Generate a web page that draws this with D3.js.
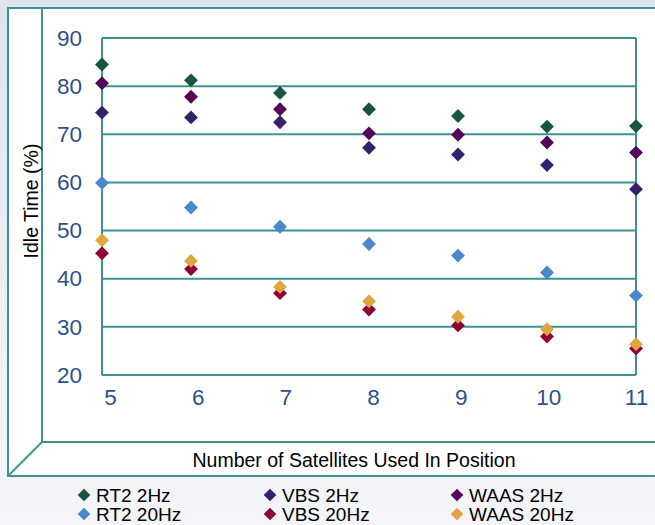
<!DOCTYPE html>
<html>
<head>
<meta charset="utf-8">
<script src="https://cdn.jsdelivr.net/npm/d3@7"></script>
<style>
  html, body { margin: 0; padding: 0; }
  body { width: 655px; height: 525px; overflow: hidden; }
  text { font-family: "Liberation Sans", Arial, sans-serif; }
</style>
</head>
<body>
<script>
// satellites used in position
var satellites = [5, 6, 7, 8, 9, 10, 11];
var yTicks = [20, 30, 40, 50, 60, 70, 80, 90];

var seriesNames = ['RT2 2Hz', 'VBS 2Hz', 'WAAS 2Hz', 'RT2 20Hz', 'VBS 20Hz', 'WAAS 20Hz'];
var rt2_2 = [84.5, 81.2, 78.6, 75.2, 73.8, 71.6, 71.7];
var vbs_2 = [74.5, 73.5, 72.5, 67.2, 65.8, 63.6, 58.6];
var waas_2 = [80.6, 77.8, 75.2, 70.2, 69.9, 68.3, 66.2];
var rt2_20 = [59.9, 54.8, 50.8, 47.2, 44.8, 41.3, 36.5];
var vbs_20 = [45.3, 42.0, 37.0, 33.6, 30.3, 28.0, 25.5];
var waas_20 = [48.0, 43.7, 38.3, 35.3, 32.1, 29.5, 26.4];

var seriesValues = [rt2_2, vbs_2, waas_2, rt2_20, vbs_20, waas_20];
var colors = ['#17553f', '#37206b', '#54045a', '#4a88c9', '#8c0434', '#dfa640'];

var width = 655, height = 525;
var teal = '#3b9490';

var svg = d3.select('body').append('svg')
    .attr('width', width)
    .attr('height', height);

// achtergrond met lichte verloop
var grad = svg.append('defs').append('linearGradient')
    .attr('id', 'bg').attr('x1', 0).attr('y1', 0).attr('x2', 0).attr('y2', 1);
grad.append('stop').attr('offset', '0%').attr('stop-color', '#e1e4ed');
grad.append('stop').attr('offset', '100%').attr('stop-color', '#f4f5f8');
svg.append('rect').attr('width', width).attr('height', height).attr('fill', 'url(#bg)');

// 3d kader
var frame = { left: 8, top: 8, back: 42, floor: 442, bottom: 476 };
svg.append('rect')
    .attr('x', frame.left).attr('y', frame.top)
    .attr('width', width + 10).attr('height', frame.bottom - frame.top)
    .attr('fill', '#fff').attr('stroke', teal).attr('stroke-width', 2);
svg.append('line')
    .attr('x1', frame.back).attr('y1', frame.top)
    .attr('x2', frame.back).attr('y2', frame.floor)
    .attr('stroke', teal).attr('stroke-width', 2);
svg.append('line')
    .attr('x1', frame.back).attr('y1', frame.floor)
    .attr('x2', width + 5).attr('y2', frame.floor)
    .attr('stroke', teal).attr('stroke-width', 2);
svg.append('line')
    .attr('x1', frame.back).attr('y1', frame.floor)
    .attr('x2', frame.left).attr('y2', frame.bottom)
    .attr('stroke', teal).attr('stroke-width', 2);

var margin = { top: 38, left: 102, right: 636, bottom: 375 };

var xScale = d3.scaleLinear().domain([5, 11]).range([margin.left, margin.right]);
var yScale = d3.scaleLinear().domain([20, 90]).range([margin.bottom, margin.top]);
// labels staan in het origineel iets naar rechts
var xLabelScale = d3.scaleLinear().domain([5, 11]).range([margin.left + 8, margin.right]);

// rasterlijnen
svg.append('g').selectAll('line').data(yTicks)
    .enter().append('line')
    .attr('x1', margin.left).attr('x2', margin.right)
    .attr('y1', function (d) { return yScale(d); })
    .attr('y2', function (d) { return yScale(d); })
    .attr('stroke', teal).attr('stroke-width', 2);

svg.append('line')
    .attr('x1', margin.left).attr('x2', margin.left)
    .attr('y1', margin.top).attr('y2', margin.bottom)
    .attr('stroke', teal).attr('stroke-width', 2);
svg.append('line')
    .attr('x1', margin.right).attr('x2', margin.right)
    .attr('y1', margin.top).attr('y2', margin.bottom)
    .attr('stroke', teal).attr('stroke-width', 2);

// y-as
var yAxis = svg.append('g')
    .attr('transform', 'translate(' + margin.left + ',0)')
    .call(d3.axisLeft(yScale).tickValues(yTicks).tickSize(0).tickPadding(20));
yAxis.select('.domain').remove();
yAxis.selectAll('text')
    .style('font-family', '"Liberation Sans", Arial, sans-serif')
    .style('font-size', '22.5px')
    .attr('fill', '#2e4f8c');

// x-as
var xAxis = svg.append('g')
    .attr('transform', 'translate(0,' + margin.bottom + ')')
    .call(d3.axisBottom(xLabelScale).tickValues(satellites).tickFormat(d3.format('d')).tickSize(0).tickPadding(14));
xAxis.select('.domain').remove();
xAxis.selectAll('text')
    .style('font-family', '"Liberation Sans", Arial, sans-serif')
    .style('font-size', '22.5px')
    .attr('fill', '#2e4f8c');

// as titels
svg.append('text')
    .attr('transform', 'translate(38,201) rotate(-90)')
    .attr('text-anchor', 'middle')
    .style('font-size', '19.5px')
    .text('Idle Time (%)');

svg.append('text')
    .attr('x', 354).attr('y', 467)
    .attr('text-anchor', 'middle')
    .style('font-size', '19.5px')
    .text('Number of Satellites Used In Position');

// punten
var diamond = d3.symbol().type(d3.symbolSquare).size(96);

seriesValues.forEach(function (values, i) {
    svg.append('g').selectAll('path').data(values)
        .enter().append('path')
        .attr('d', diamond)
        .attr('transform', function (d, j) {
            return 'translate(' + xScale(satellites[j]) + ',' + yScale(d) + ') rotate(45)';
        })
        .attr('fill', colors[i]);
});

// legenda
var legendX = [84, 270, 457];
var legendY = [495, 514];
var legendSymbol = d3.symbol().type(d3.symbolSquare).size(80);
var legend = svg.append('g').selectAll('g').data(seriesNames)
    .enter().append('g')
    .attr('transform', function (d, i) {
        return 'translate(' + legendX[i % 3] + ',' + legendY[Math.floor(i / 3)] + ')';
    });
legend.append('path')
    .attr('d', legendSymbol)
    .attr('transform', 'rotate(45)')
    .attr('fill', function (d, i) { return colors[i]; });
legend.append('text')
    .attr('x', 12).attr('y', 6.5)
    .style('font-size', '19px')
    .text(function (d) { return d; });
</script>
</body>
</html>
